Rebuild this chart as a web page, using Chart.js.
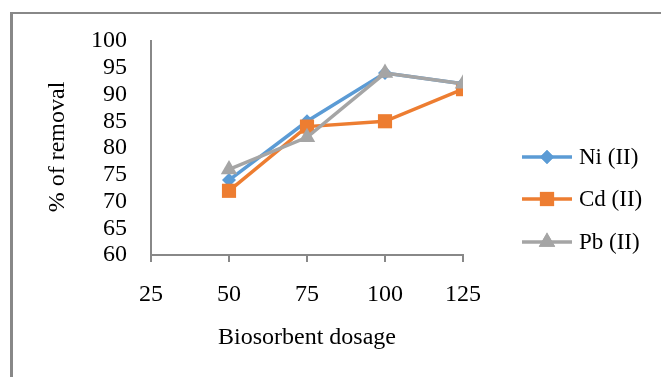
<!DOCTYPE html>
<html>
<head>
<meta charset="utf-8">
<script src="https://cdn.jsdelivr.net/npm/chart.js@4"></script>
<style>
  html, body { margin: 0; padding: 0; background: #fff; }
  #wrap { position: relative; width: 661px; height: 377px; overflow: hidden; }
  #frame { position: absolute; left: 10px; top: 12px; width: 660px; height: 380px;
           border-left: 3px solid #888; border-top: 2px solid #888; }
  canvas { position: absolute; left: 0; top: 0; }
</style>
</head>
<body>
<div id="wrap">
  <div id="frame"></div>
  <canvas id="chart" width="661" height="377"></canvas>
</div>
<script>
const dosage = [50, 75, 100, 125];
const niValues = [74, 85, 94, 92];
const cdValues = [72, 84, 85, 91];
const pbValues = [76, 82, 94, 92];
const seriesNames = ["Ni (II)", "Cd (II)", "Pb (II)"];

const serif = "'Liberation Serif', 'Times New Roman', serif";
Chart.defaults.font.family = serif;
Chart.defaults.color = "#000";

function points(values) {
  return dosage.map((d, i) => ({ x: d, y: values[i] }));
}

// legend drawn as line + marker like the original
const sideLegend = {
  id: "sideLegend",
  afterDraw(chart) {
    const ctx = chart.ctx;
    const rows = [157, 199, 242];
    chart.data.datasets.forEach((ds, i) => {
      const y = rows[i];
      ctx.save();
      ctx.strokeStyle = ds.borderColor;
      ctx.lineWidth = 3.5;
      ctx.beginPath();
      ctx.moveTo(522, y);
      ctx.lineTo(572, y);
      ctx.stroke();
      ctx.fillStyle = ds.backgroundColor;
      Chart.helpers.drawPoint(ctx, {
        pointStyle: ds.pointStyle,
        radius: ds.pointRadius,
        borderWidth: 0,
      }, 547, y);
      ctx.fill();
      ctx.fillStyle = "#000";
      ctx.font = "23px " + serif;
      ctx.textAlign = "left";
      ctx.textBaseline = "middle";
      ctx.fillText(ds.label, 579, y + 1);
      ctx.restore();
    });

    // axis titles
    const area = chart.chartArea;
    ctx.save();
    ctx.fillStyle = "#000";
    ctx.font = "24px " + serif;
    ctx.textAlign = "center";
    ctx.textBaseline = "middle";
    ctx.fillText("Biosorbent dosage", (area.left + area.right) / 2, 338);
    ctx.translate(58, 147);
    ctx.rotate(-Math.PI / 2);
    ctx.fillText("% of removal", 0, 0);
    ctx.restore();
  },
};

new Chart(document.getElementById("chart"), {
  type: "line",
  data: {
    datasets: [
      {
        label: seriesNames[0],
        data: points(niValues),
        borderColor: "#5B9BD5",
        backgroundColor: "#5B9BD5",
        pointStyle: "rectRot",
        pointRadius: 7,
        order: 3,
      },
      {
        label: seriesNames[1],
        data: points(cdValues),
        borderColor: "#ED7D31",
        backgroundColor: "#ED7D31",
        pointStyle: "rect",
        pointRadius: 10,
        order: 2,
      },
      {
        label: seriesNames[2],
        data: points(pbValues),
        borderColor: "#A5A5A5",
        backgroundColor: "#A5A5A5",
        pointStyle: "triangle",
        pointRadius: 9.5,
        order: 1,
      },
    ],
  },
  options: {
    responsive: false,
    animation: false,
    elements: {
      line: { borderWidth: 3.5, tension: 0 },
      point: { borderWidth: 0, hoverRadius: 9 },
    },
    layout: { padding: { left: 0, top: 41, right: 198, bottom: 0 } },
    plugins: {
      legend: { display: false },
      tooltip: { enabled: false },
    },
    scales: {
      x: {
        type: "linear",
        min: 25,
        max: 125,
        afterFit(scale) { scale.height = 122; },
        ticks: { stepSize: 25, padding: 18, autoSkip: false, maxRotation: 0, font: { size: 24 }, color: "#000" },
        grid: { drawOnChartArea: false, drawTicks: true, tickLength: 7, color: "#888", lineWidth: 2 },
        border: { display: true, color: "#888", width: 2 },
      },
      y: {
        min: 60,
        max: 100,
        afterFit(scale) { scale.width = 151; },
        ticks: { stepSize: 5, padding: 16, autoSkip: false, font: { size: 24 }, color: "#000" },
        grid: { display: false },
        border: { display: true, color: "#888", width: 2 },
      },
    },
  },
  plugins: [sideLegend],
});
</script>
</body>
</html>
